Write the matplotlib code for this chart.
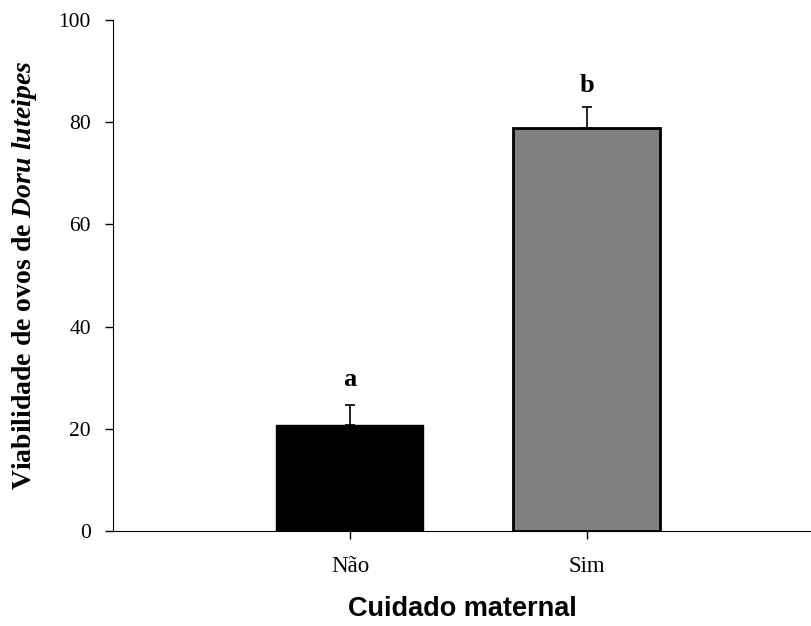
import matplotlib
matplotlib.use("Agg")
import matplotlib.pyplot as plt

categories = ["Não", "Sim"]
values = [20.7, 78.9]
errors = [4.0, 4.0]
letters = ["a", "b"]
letter_y = [29.6, 87.2]
colors = ["#000000", "#808080"]
yticks = [0, 20, 40, 60, 80, 100]

plt.rcParams['mathtext.fontset'] = 'custom'
plt.rcParams['mathtext.it'] = 'Liberation Serif:italic:bold'
plt.rcParams['mathtext.rm'] = 'Liberation Serif:bold'

fig = plt.figure(figsize=(8.12, 6.26), dpi=100)
ax = fig.add_axes([113/812, 1-531/626, 1-113/812, (531-20)/626])

x = list(range(len(categories)))
ax.bar(x, values, width=0.62, color=colors, edgecolor="black", linewidth=[1.0, 2.0], zorder=2)
ax.errorbar(x, values, yerr=[[0]*len(errors), errors], fmt="none", ecolor="black",
            elinewidth=1.2, capsize=3.5, capthick=1.2, zorder=1)
for xi, l, ly in zip(x, letters, letter_y):
    ax.text(xi, ly, l, ha="center", va="center", fontsize=19, fontweight="bold",
            family="Liberation Serif")

ax.set_xlim(-1.0, 1.95)
ax.set_ylim(0, 100)
ax.set_yticks(yticks)
ax.set_xticks(x)
ax.set_xticklabels(categories)
for lab in ax.get_yticklabels():
    lab.set_family("Liberation Serif")
    lab.set_fontsize(15.5)
for lab in ax.get_xticklabels():
    lab.set_family("Liberation Serif")
    lab.set_fontsize(16.5)
ax.tick_params(direction="out", length=6, width=1)
ax.tick_params(axis="y", pad=10)
ax.tick_params(axis="x", pad=12)
ax.spines["top"].set_visible(False)
ax.spines["right"].set_visible(False)

ax.set_ylabel(r"Viabilidade de ovos de $\mathit{Doru\ luteipes}$", fontsize=20,
              fontweight="bold", family="Liberation Serif", labelpad=14)
ax.set_xlabel("Cuidado maternal", fontsize=19.5, fontweight="bold",
              family="Liberation Sans", labelpad=14)

fig.savefig("out.png", dpi=100)
